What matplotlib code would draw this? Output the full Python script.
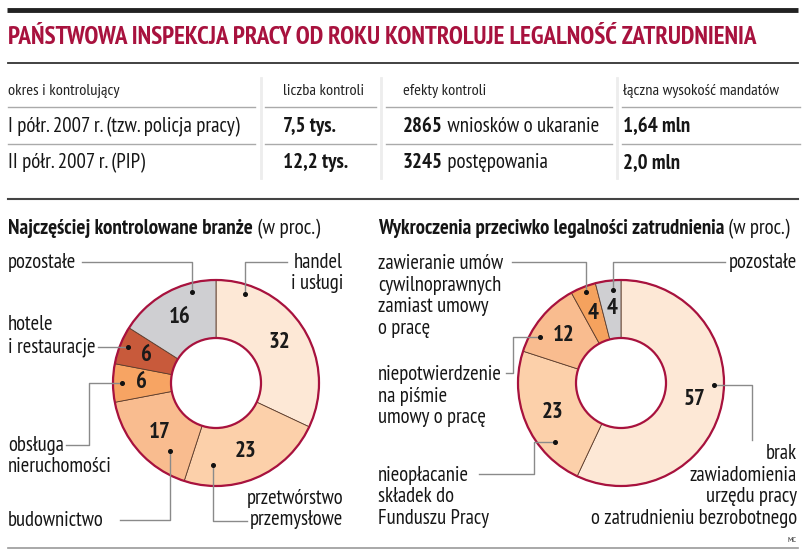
import numpy as np
import matplotlib.pyplot as plt
from matplotlib.patches import Circle
from matplotlib import font_manager as fm

# --- data ---
title = "PAŃSTWOWA INSPEKCJA PRACY OD ROKU KONTROLUJE LEGALNOŚĆ ZATRUDNIENIA"

table_header = ["okres i kontrolujący", "liczba kontroli", "efekty kontroli", "łączna wysokość mandatów"]
periods = ["I półr. 2007 r. (tzw. policja pracy)", "II półr. 2007 r. (PIP)"]
controls = ["7,5 tys.", "12,2 tys."]
effects_num = ["2865", "3245"]
effects_txt = [" wniosków o ukaranie", " postępowania"]
fines = ["1,64 mln", "2,0 mln"]

branches = ["handel\ni usługi", "przetwórstwo\nprzemysłowe", "budownictwo",
            "obsługa\nnieruchomości", "hotele\ni restauracje", "pozostałe"]
branch_vals = [32, 23, 17, 6, 6, 16]

offences = ["brak\nzawiadomienia\nurzędu pracy\no zatrudnieniu bezrobotnego",
            "nieopłacanie\nskładek do\nFunduszu Pracy",
            "niepotwierdzenie\nna piśmie\numowy o pracę",
            "zawieranie umów\ncywilnoprawnych\nzamiast umowy\no pracę",
            "pozostałe"]
offence_vals = [57, 23, 12, 4, 4]

# --- fonts: a condensed face if there is one ---
installed = {f.name for f in fm.fontManager.ttflist}
picked = None
for name in ['PT Sans Narrow', 'Fira Sans Condensed', 'Asap Condensed', 'Roboto Condensed',
             'Archivo Narrow', 'Liberation Sans Narrow']:
    if name in installed:
        picked = name
        break
if picked:
    plt.rcParams['font.family'] = [picked, 'DejaVu Sans']
    K = 1.0
else:
    plt.rcParams['font.family'] = ['Liberation Sans', 'DejaVu Sans']
    K = 0.8

crimson = '#a8123e'
left_cols = ['#fde8d6', '#fcd0aa', '#f9bc8f', '#f7a463', '#c85a3b', '#cfcfd2']
right_cols = ['#fde8d6', '#fcd0aa', '#f9bc8f', '#f5a25e', '#cfcfd2']
grey = '#8a8a8a'
ink = '#161616'

fig = plt.figure(figsize=(8.05, 5.56), dpi=100)
ax = fig.add_axes([0, 0, 1, 1])

# frame lines
ax.plot([7, 798], [10, 10], color='#222222', lw=3.5, solid_capstyle='butt')
ax.text(8, 38, title, color=crimson, fontsize=18.1 * K, fontweight='bold', va='center')
ax.plot([8, 798], [63, 63], color='#333333', lw=1.3)
ax.plot([8, 798], [199, 199], color='#444444', lw=1.5)
ax.plot([8, 798], [548, 548], color='#999999', lw=1.2)

# table
col_x = [8, 283, 403, 623]
for x, h in zip(col_x, table_header):
    ax.text(x, 91, h, fontsize=11.8 * K, va='center', color='#222222')
for x0, x1 in [(8, 255), (265, 376), (386, 612), (622, 800)]:
    for y in (107, 144):
        ax.plot([x0, x1], [y, y], color='#aaaaaa', lw=1)
for x in (261, 381, 617):
    ax.plot([x, x], [78, 178], color='#ededed', lw=2)

TS = 15 * K
row_y = [127, 163]
for i, y in enumerate(row_y):
    ax.text(col_x[0], y, periods[i], fontsize=TS, va='center', color=ink)
    ax.text(col_x[1], y, controls[i], fontsize=TS, va='center', fontweight='bold', color=ink)
    t = ax.text(col_x[2], y, effects_num[i], fontsize=TS, va='center', fontweight='bold', color=ink)
    ax.annotate(effects_txt[i], xy=(1, 0.5), xycoords=t, va='center', ha='left',
                fontsize=TS, color=ink)
    ax.text(col_x[3], y, fines[i], fontsize=TS, va='center', fontweight='bold', color=ink)

# subtitles
SS = 15.2 * K
t = ax.text(8, 229, "Najczęściej kontrolowane branże", fontsize=SS, fontweight='bold', va='center', color=ink)
ax.annotate(" (w proc.)", xy=(1, 0.5), xycoords=t, va='center', fontsize=SS, color=ink)
t = ax.text(378, 229, "Wykroczenia przeciwko legalności zatrudnienia", fontsize=SS * 0.985,
            fontweight='bold', va='center', color=ink)
ax.annotate(" (w proc.)", xy=(1, 0.5), xycoords=t, va='center', fontsize=SS * 0.985, color=ink)


def donut(values, colors, center, r_out=103, r_in=45, r_num=75):
    # y axis is inverted, so counterclockwise in data = clockwise on screen
    wedges, _ = ax.pie(values, colors=colors, center=center, radius=r_out,
                       startangle=-90, counterclock=True,
                       wedgeprops=dict(width=r_out - r_in, edgecolor='#5b3b2b', linewidth=0.6))
    for w, v in zip(wedges, values):
        mid = np.deg2rad((w.theta1 + w.theta2) / 2)
        ax.text(center[0] + r_num * np.cos(mid), center[1] + r_num * np.sin(mid), str(v),
                ha='center', va='center', fontsize=16.5 * K, fontweight='bold', color='#1a1a1a')
    ax.add_patch(Circle(center, r_out, fill=False, edgecolor=crimson, lw=1.6, zorder=5))
    ax.add_patch(Circle(center, r_in, facecolor='white', edgecolor=crimson, lw=1.6, zorder=5))


donut(branch_vals, left_cols, (216, 383))
donut(offence_vals, right_cols, (621, 383))


def leader(xs, ys, dot):
    ax.plot(xs, ys, color=grey, lw=1, zorder=6)
    ax.plot(*dot, 'o', color='#111111', ms=2.6, zorder=7)


LS = 14.9 * K  # label font size
LSP = 1.17
# left labels
ax.text(343, 273, branches[0], fontsize=LS, ha='right', va='center', linespacing=LSP,
        multialignment='right', color=ink)
leader([287, 245, 245], [262, 262, 294], (245, 294))
ax.text(343, 509, branches[1], fontsize=LS, ha='right', va='center', linespacing=LSP,
        multialignment='right', color=ink)
leader([247, 213, 213], [521, 521, 465], (213, 465))
ax.text(8, 520, branches[2], fontsize=LS, va='center', color=ink)
leader([120, 170, 170], [520, 520, 451], (170, 451))
ax.text(8, 456, branches[3], fontsize=LS, va='center', linespacing=LSP, color=ink)
leader([66, 89, 89, 122], [445, 445, 383, 383], (122, 383))
ax.text(8, 336, branches[4], fontsize=LS, va='center', linespacing=LSP, color=ink)
leader([98, 128], [347, 347], (128, 347))
ax.text(8, 262, branches[5], fontsize=LS, va='center', color=ink)
leader([82, 192, 192], [262, 262, 292], (192, 292))

# right labels
ax.text(797, 486, offences[0], fontsize=LS, ha='right', va='center', linespacing=LSP,
        multialignment='right', color=ink)
leader([714, 752, 752], [385, 385, 440], (714, 385))
ax.text(378, 497, offences[1], fontsize=LS, va='center', linespacing=LSP, color=ink)
leader([479, 534, 534, 555], [474, 474, 442, 442], (555, 442))
ax.text(378, 396, offences[2], fontsize=LS, va='center', linespacing=LSP, color=ink)
leader([506, 513, 513, 540], [373, 373, 337, 337], (540, 337))
ax.text(378, 296, offences[3], fontsize=LS, va='center', linespacing=LSP, color=ink)
leader([512, 586, 586], [262, 262, 292], (586, 292))
ax.text(797, 262, offences[4], fontsize=LS, ha='right', va='center', color=ink)
leader([725, 613, 613], [262, 262, 290], (613, 290))

ax.text(797, 540, "MC", fontsize=6, ha='right', va='center', color='#333333')

ax.set_xlim(0, 805)
ax.set_ylim(556, 0)
ax.axis('off')
fig.savefig('out.png', dpi=100)
